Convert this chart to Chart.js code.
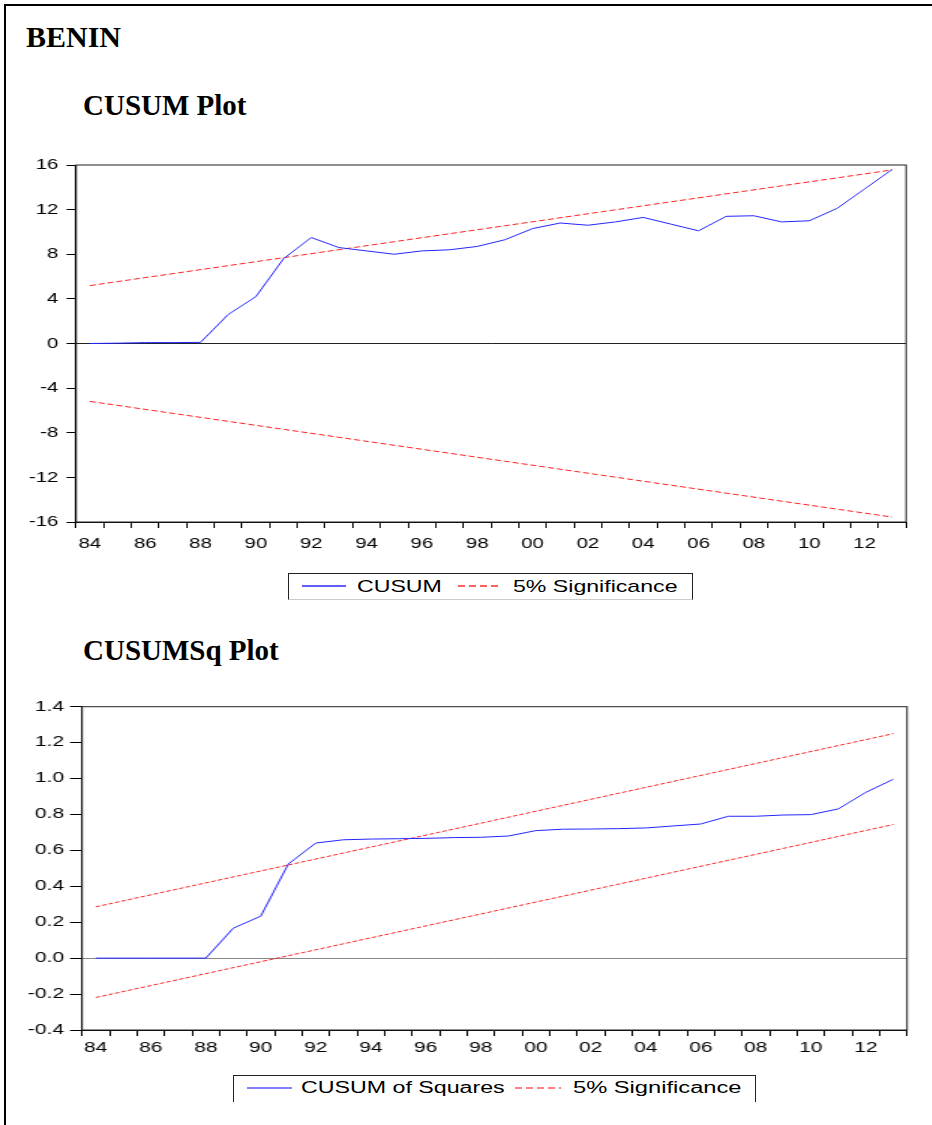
<!DOCTYPE html>
<html>
<head>
<meta charset="utf-8">
<script src="https://cdn.jsdelivr.net/npm/chart.js@4.4.1/dist/chart.umd.min.js"></script>
<style>
html,body{margin:0;padding:0;background:#fff;overflow:hidden;}
body{width:932px;height:1125px;position:relative;font-family:'Liberation Sans',Arial,sans-serif;}
.frame{position:absolute;left:4px;top:4px;width:940px;height:1140px;border-left:2px solid #000;border-top:2px solid #000;}
.title{position:absolute;font-family:'Liberation Serif','Times New Roman',serif;font-weight:bold;color:#000;white-space:nowrap;line-height:1;}
.wrap{position:absolute;left:0;transform-origin:0 0;}
.wrap canvas{display:block;}
.lbox{position:absolute;box-sizing:border-box;border:1px solid #222;}
.lt{position:absolute;white-space:nowrap;transform-origin:0 50%;color:#000;line-height:1;}
.ls{position:absolute;height:2px;}
</style>
</head>
<body>
<div class="frame"></div>
<div class="title" style="left:26px;top:22px;font-size:30px;">BENIN</div>
<div class="title" style="left:83px;top:91px;font-size:29px;">CUSUM Plot</div>
<div class="title" style="left:83px;top:636px;font-size:29px;">CUSUMSq Plot</div>

<div class="wrap" id="w1" style="top:140px;width:685.3px;height:425px;transform:scaleX(1.36);"><canvas id="c1"></canvas></div>
<div class="wrap" id="w2" style="top:680px;width:621.3px;height:392px;transform:scaleX(1.5);"><canvas id="c2"></canvas></div>

<div class="lbox" style="left:288px;top:573px;width:405px;height:27px;border-bottom-color:#ccc;"></div>
<div class="ls" style="left:302px;top:585px;width:44px;background:#6060ff;"></div>
<div class="lt" style="left:357px;top:577.7px;font-size:17px;transform:scaleX(1.36);">CUSUM</div>
<div class="ls" style="left:458px;top:585px;width:44px;background:repeating-linear-gradient(90deg,#ff6060 0 7px,transparent 7px 11px);"></div>
<div class="lt" style="left:513px;top:577.7px;font-size:17px;transform:scaleX(1.36);">5% Significance</div>

<div class="lbox" style="left:233px;top:1075px;width:523px;height:27px;border-bottom:none;"></div>
<div class="ls" style="left:247px;top:1087px;width:45px;background:#8080ff;"></div>
<div class="lt" style="left:301px;top:1080.2px;font-size:16px;transform:scaleX(1.45);">CUSUM of Squares</div>
<div class="ls" style="left:515px;top:1087px;width:46px;background:repeating-linear-gradient(90deg,#ff8080 0 7px,transparent 7px 11px);"></div>
<div class="lt" style="left:573px;top:1080.2px;font-size:16px;transform:scaleX(1.48);">5% Significance</div>

<script>
// ---- data ----
const years = [1984,1985,1986,1987,1988,1989,1990,1991,1992,1993,1994,1995,1996,1997,1998,1999,
               2000,2001,2002,2003,2004,2005,2006,2007,2008,2009,2010,2011,2012,2013];
const cusum = [0.0,0.03,0.08,0.08,0.1,2.6,4.2,7.6,9.5,8.6,8.3,8.0,8.3,8.4,8.7,9.3,
               10.3,10.8,10.6,10.9,11.3,10.7,10.1,11.4,11.45,10.9,11.0,12.1,13.85,15.6];
const cusumUpperEnds = [5.19, 15.56];
const cusumLowerEnds = [-5.19, -15.56];
const cusumSq = [0,0,0,0,0,0.167,0.234,0.524,0.641,0.659,0.663,0.665,0.667,0.671,0.673,0.680,
                 0.710,0.718,0.719,0.721,0.725,0.736,0.747,0.790,0.790,0.797,0.799,0.831,0.923,0.996];
const sqUpperEnds = [0.286, 1.250];
const sqLowerEnds = [-0.219, 0.744];
const cusumYTicks = [-16,-12,-8,-4,0,4,8,12,16];
const sqYTicks = [-0.4,-0.2,0.0,0.2,0.4,0.6,0.8,1.0,1.2,1.4];

// ---- helpers ----
const labels = years.map(String);
const lastIdx = years.length - 1;
const band = ends => years.map((y,i) => i === 0 ? ends[0] : (i === lastIdx ? ends[1] : null));
const xTick = (v,i) => i % 2 === 0 ? String(years[i]).slice(-2) : '';

Chart.defaults.font.family = "'Liberation Sans', Arial, sans-serif";
Chart.defaults.color = '#000';

const framePlugin = {
  id: 'frame',
  afterDatasetsDraw(chart) {
    const {ctx, chartArea: a} = chart;
    ctx.save();
    ctx.strokeStyle = '#222';
    ctx.lineWidth = 1;
    ctx.strokeRect(a.left, a.top, a.right - a.left, a.bottom - a.top);
    ctx.restore();
  }
};

function makeChart(id, cfg) {
  return new Chart(document.getElementById(id), {
    type: 'line',
    data: {
      labels,
      datasets: [
        {data: cfg.main, borderColor: '#2424ff', borderWidth: 1, pointRadius: 0, tension: 0, order: 1},
        {data: band(cfg.up), borderColor: '#ff2020', borderWidth: 1, borderDash: cfg.dash, pointRadius: 0, spanGaps: true, order: 2},
        {data: band(cfg.lo), borderColor: '#ff2020', borderWidth: 1, borderDash: cfg.dash, pointRadius: 0, spanGaps: true, order: 2}
      ]
    },
    options: {
      responsive: true,
      maintainAspectRatio: false,
      animation: false,
      events: [],
      layout: {padding: {left: 0, right: cfg.padRight, top: cfg.padTop, bottom: 0}},
      plugins: {legend: {display: false}, tooltip: {enabled: false}},
      scales: {
        x: {
          type: 'category',
          offset: true,
          grid: {offset: true, drawOnChartArea: false, tickLength: 6, tickColor: '#000'},
          border: {color: '#000'},
          ticks: {autoSkip: false, maxRotation: 0, minRotation: 0, padding: cfg.xPad, color: '#000',
                  font: {size: cfg.font}, callback: xTick},
          afterFit(s) { s.height = cfg.xHeight; }
        },
        y: {
          min: cfg.ticks[0],
          max: cfg.ticks[cfg.ticks.length - 1],
          afterBuildTicks(s) { s.ticks = cfg.ticks.map(v => ({value: v})); },
          grid: {color: c => (c.tick && c.tick.value === 0) ? cfg.zero : 'rgba(0,0,0,0)',
                 tickColor: '#000', tickLength: cfg.yTickLen},
          border: {color: '#000'},
          ticks: {padding: cfg.yPad, color: '#000', font: {size: cfg.font}, callback: cfg.fmt},
          afterFit(s) { s.width = cfg.yWidth; }
        }
      }
    },
    plugins: [framePlugin]
  });
}

makeChart('c1', {
  main: cusum, up: cusumUpperEnds, lo: cusumLowerEnds, dash: [4.4, 2.2],
  ticks: cusumYTicks, fmt: v => String(v), font: 15, zero: '#222',
  padRight: 19.1, padTop: 25, xHeight: 43, yWidth: 55.9, xPad: 7, yPad: 6, yTickLen: 7
});
makeChart('c2', {
  main: cusumSq, up: sqUpperEnds, lo: sqLowerEnds, dash: [3, 1.5],
  ticks: sqYTicks, fmt: v => Number(v).toFixed(1), font: 14, zero: '#888',
  padRight: 16.6, padTop: 26.7, xHeight: 42, yWidth: 54.7, xPad: 4, yPad: 4, yTickLen: 8
});
</script>
</body>
</html>
